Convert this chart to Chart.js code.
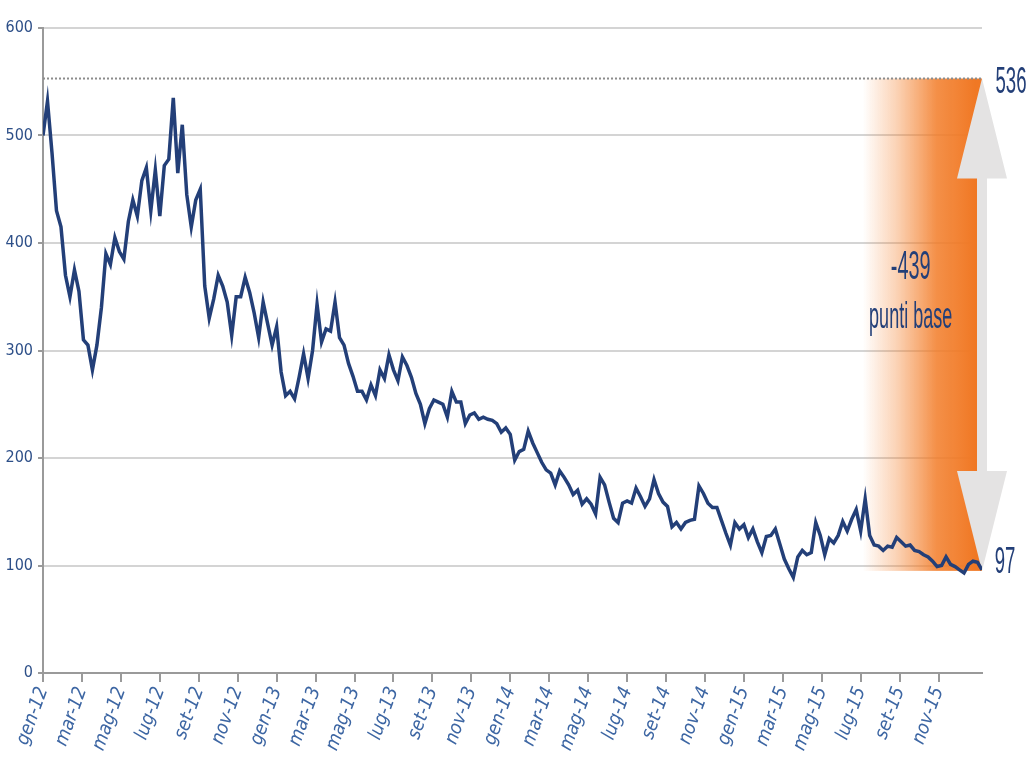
<!DOCTYPE html>
<html>
<head>
<meta charset="utf-8">
<script src="https://cdn.jsdelivr.net/npm/chart.js@4/dist/chart.umd.min.js"></script>
<style>
  html, body { margin: 0; padding: 0; background: #ffffff; }
</style>
</head>
<body>
<canvas id="spreadChart" width="1031" height="773"></canvas>
<script>
// etichette asse x (una ogni due mesi)
const tickLabels = [
  "gen-12", "mar-12", "mag-12", "lug-12", "set-12", "nov-12",
  "gen-13", "mar-13", "mag-13", "lug-13", "set-13", "nov-13",
  "gen-14", "mar-14", "mag-14", "lug-14", "set-14", "nov-14",
  "gen-15", "mar-15", "mag-15", "lug-15", "set-15", "nov-15"
];

// spread settimanale, punti base (gen-12 .. dic-15)
const spreadValues = [
  500, 532, 484, 430, 415, 370, 350, 375, 355, 310,
  305, 282, 305, 340, 390, 380, 405, 392, 385, 420,
  440, 425, 458, 470, 430, 468, 425, 472, 478, 535,
  465, 510, 445, 415, 440, 450, 360, 330, 348, 370,
  360, 345, 314, 350, 350, 368, 354, 335, 312, 345,
  325, 305, 322, 280, 258, 262, 255, 275, 297, 274,
  300, 343, 308, 320, 318, 345, 312, 305, 288, 276,
  262, 262, 254, 268, 258, 282, 274, 296, 282, 272,
  294, 286, 275, 260, 250, 232, 246, 254, 252, 250,
  238, 262, 252, 252, 232, 240, 242, 236, 238, 236,
  235, 232, 224, 228, 222, 198, 206, 208, 225, 214,
  205, 196, 189, 186, 175, 188, 182, 175, 166, 170,
  157, 162, 157, 148, 182, 175, 159, 144, 140, 158,
  160, 158, 172, 164, 155, 162, 180, 167, 159, 155,
  136, 140, 134, 140, 142, 143, 174, 167, 158, 154,
  154, 142, 130, 119, 140, 134, 138, 126, 134, 122,
  112, 127, 128, 134, 120, 106, 97, 89, 108, 114,
  110, 112, 140, 128, 110, 125, 121, 128, 141, 132,
  143, 152, 132, 162, 128, 119, 118, 114, 118, 117,
  126, 122, 118, 119, 114, 113, 110, 108, 104, 99,
  100, 108, 101, 99, 96, 93, 101, 104, 103, 96
];

const weekStep = 12 / 52;          // mesi per settimana
const lastMonth = (spreadValues.length - 1) * weekStep;

// livello tratteggiato e freccia
const topLevel = 553;
const bottomLevel = 95;
const bandStart = 42.1;            // mese in cui inizia la sfumatura
const labelTop = "536";
const labelBottom = "97";
const labelDelta = ["-439", "punti base"];

const navy = "#233f78";

function stretchedText(ctx, text, x, y, size, sx, sy) {
    ctx.save();
    ctx.translate(x, y);
    ctx.scale(sx, sy);
    ctx.font = `${size}px "Liberation Sans", Arial, sans-serif`;
    ctx.fillStyle = navy;
    ctx.textAlign = "center";
    ctx.textBaseline = "middle";
    ctx.fillText(text, 0, 0);
    ctx.restore();
}

const rangeBand = {
    id: "rangeBand",
    beforeDatasetsDraw(chart) {
        const { ctx, scales: { x, y } } = chart;
        const left = x.getPixelForValue(bandStart);
        const cx = x.getPixelForValue(lastMonth);
        const top = y.getPixelForValue(topLevel);
        const bottom = y.getPixelForValue(bottomLevel);

        ctx.save();
        const grad = ctx.createLinearGradient(left, 0, cx - 6, 0);
        grad.addColorStop(0, "rgba(244,128,44,0)");
        grad.addColorStop(0.3, "rgba(244,128,44,0.35)");
        grad.addColorStop(0.65, "rgba(242,124,40,0.85)");
        grad.addColorStop(1, "rgba(240,120,36,1)");
        ctx.fillStyle = grad;
        ctx.fillRect(left, top, cx - left, bottom - top);

        // freccia doppia grigia
        const head = 100, half = 25, shaft = 5;
        ctx.fillStyle = "#e4e3e3";
        ctx.beginPath();
        ctx.moveTo(cx, top);
        ctx.lineTo(cx + half, top + head);
        ctx.lineTo(cx + shaft, top + head);
        ctx.lineTo(cx + shaft, bottom - head);
        ctx.lineTo(cx + half, bottom - head);
        ctx.lineTo(cx, bottom);
        ctx.lineTo(cx - half, bottom - head);
        ctx.lineTo(cx - shaft, bottom - head);
        ctx.lineTo(cx - shaft, top + head);
        ctx.lineTo(cx - half, top + head);
        ctx.closePath();
        ctx.fill();
        ctx.restore();
    },
    afterDatasetsDraw(chart) {
        const { ctx, scales: { x, y } } = chart;
        const cx = x.getPixelForValue(lastMonth);
        const mid = x.getPixelForValue(bandStart) + 48;
        stretchedText(ctx, labelTop, cx + 29, y.getPixelForValue(topLevel) + 4, 30, 0.62, 1.25);
        stretchedText(ctx, labelBottom, cx + 23, y.getPixelForValue(bottomLevel) - 8, 30, 0.62, 1.25);
        stretchedText(ctx, labelDelta[0], mid, 268, 32, 0.62, 1.25);
        stretchedText(ctx, labelDelta[1], mid, 318, 30, 0.6, 1.25);
    }
};

new Chart(document.getElementById("spreadChart"), {
    type: "line",
    data: {
        datasets: [
            {
                data: spreadValues.map((v, i) => ({ x: i * weekStep, y: v })),
                borderColor: navy,
                borderWidth: 3.5,
                pointRadius: 0,
                tension: 0
            },
            {
                data: [{ x: 0, y: topLevel }, { x: lastMonth, y: topLevel }],
                borderColor: "#8c8c8c",
                borderWidth: 2,
                borderDash: [2, 2],
                pointRadius: 0
            }
        ]
    },
    options: {
        responsive: false,
        animation: false,
        devicePixelRatio: 1,
        layout: { padding: { top: 28, right: 49, left: 0, bottom: 0 } },
        plugins: {
            legend: { display: false },
            tooltip: { enabled: false }
        },
        scales: {
            x: {
                type: "linear",
                min: 0,
                max: lastMonth,
                afterBuildTicks: scale => {
                    scale.ticks = tickLabels.map((_, k) => ({ value: k * 2 }));
                },
                afterFit: scale => { scale.height = 100; },
                ticks: {
                    autoSkip: false,
                    maxRotation: 70,
                    minRotation: 70,
                    padding: 2,
                    color: "#3d66a3",
                    font: { family: "'DejaVu Sans Condensed', 'DejaVu Sans', sans-serif", size: 19, style: "italic" },
                    callback: v => tickLabels[Math.round(v / 2)]
                },
                grid: {
                    drawOnChartArea: false,
                    drawTicks: true,
                    tickLength: 9,
                    color: "#9a9a9a",
                    lineWidth: 2
                },
                border: { color: "#9a9a9a", width: 2 }
            },
            y: {
                min: 0,
                max: 600,
                afterFit: scale => { scale.width = 43; },
                ticks: {
                    stepSize: 100,
                    padding: 5,
                    color: "#2d4f88",
                    font: { family: "'Liberation Sans Narrow', 'DejaVu Sans Condensed', sans-serif", size: 16 }
                },
                grid: {
                    color: "#d4d4d4",
                    lineWidth: 2,
                    tickLength: 5,
                    tickColor: "#9a9a9a"
                },
                border: { color: "#9a9a9a", width: 2 }
            }
        }
    },
    plugins: [rangeBand]
});
</script>
</body>
</html>
